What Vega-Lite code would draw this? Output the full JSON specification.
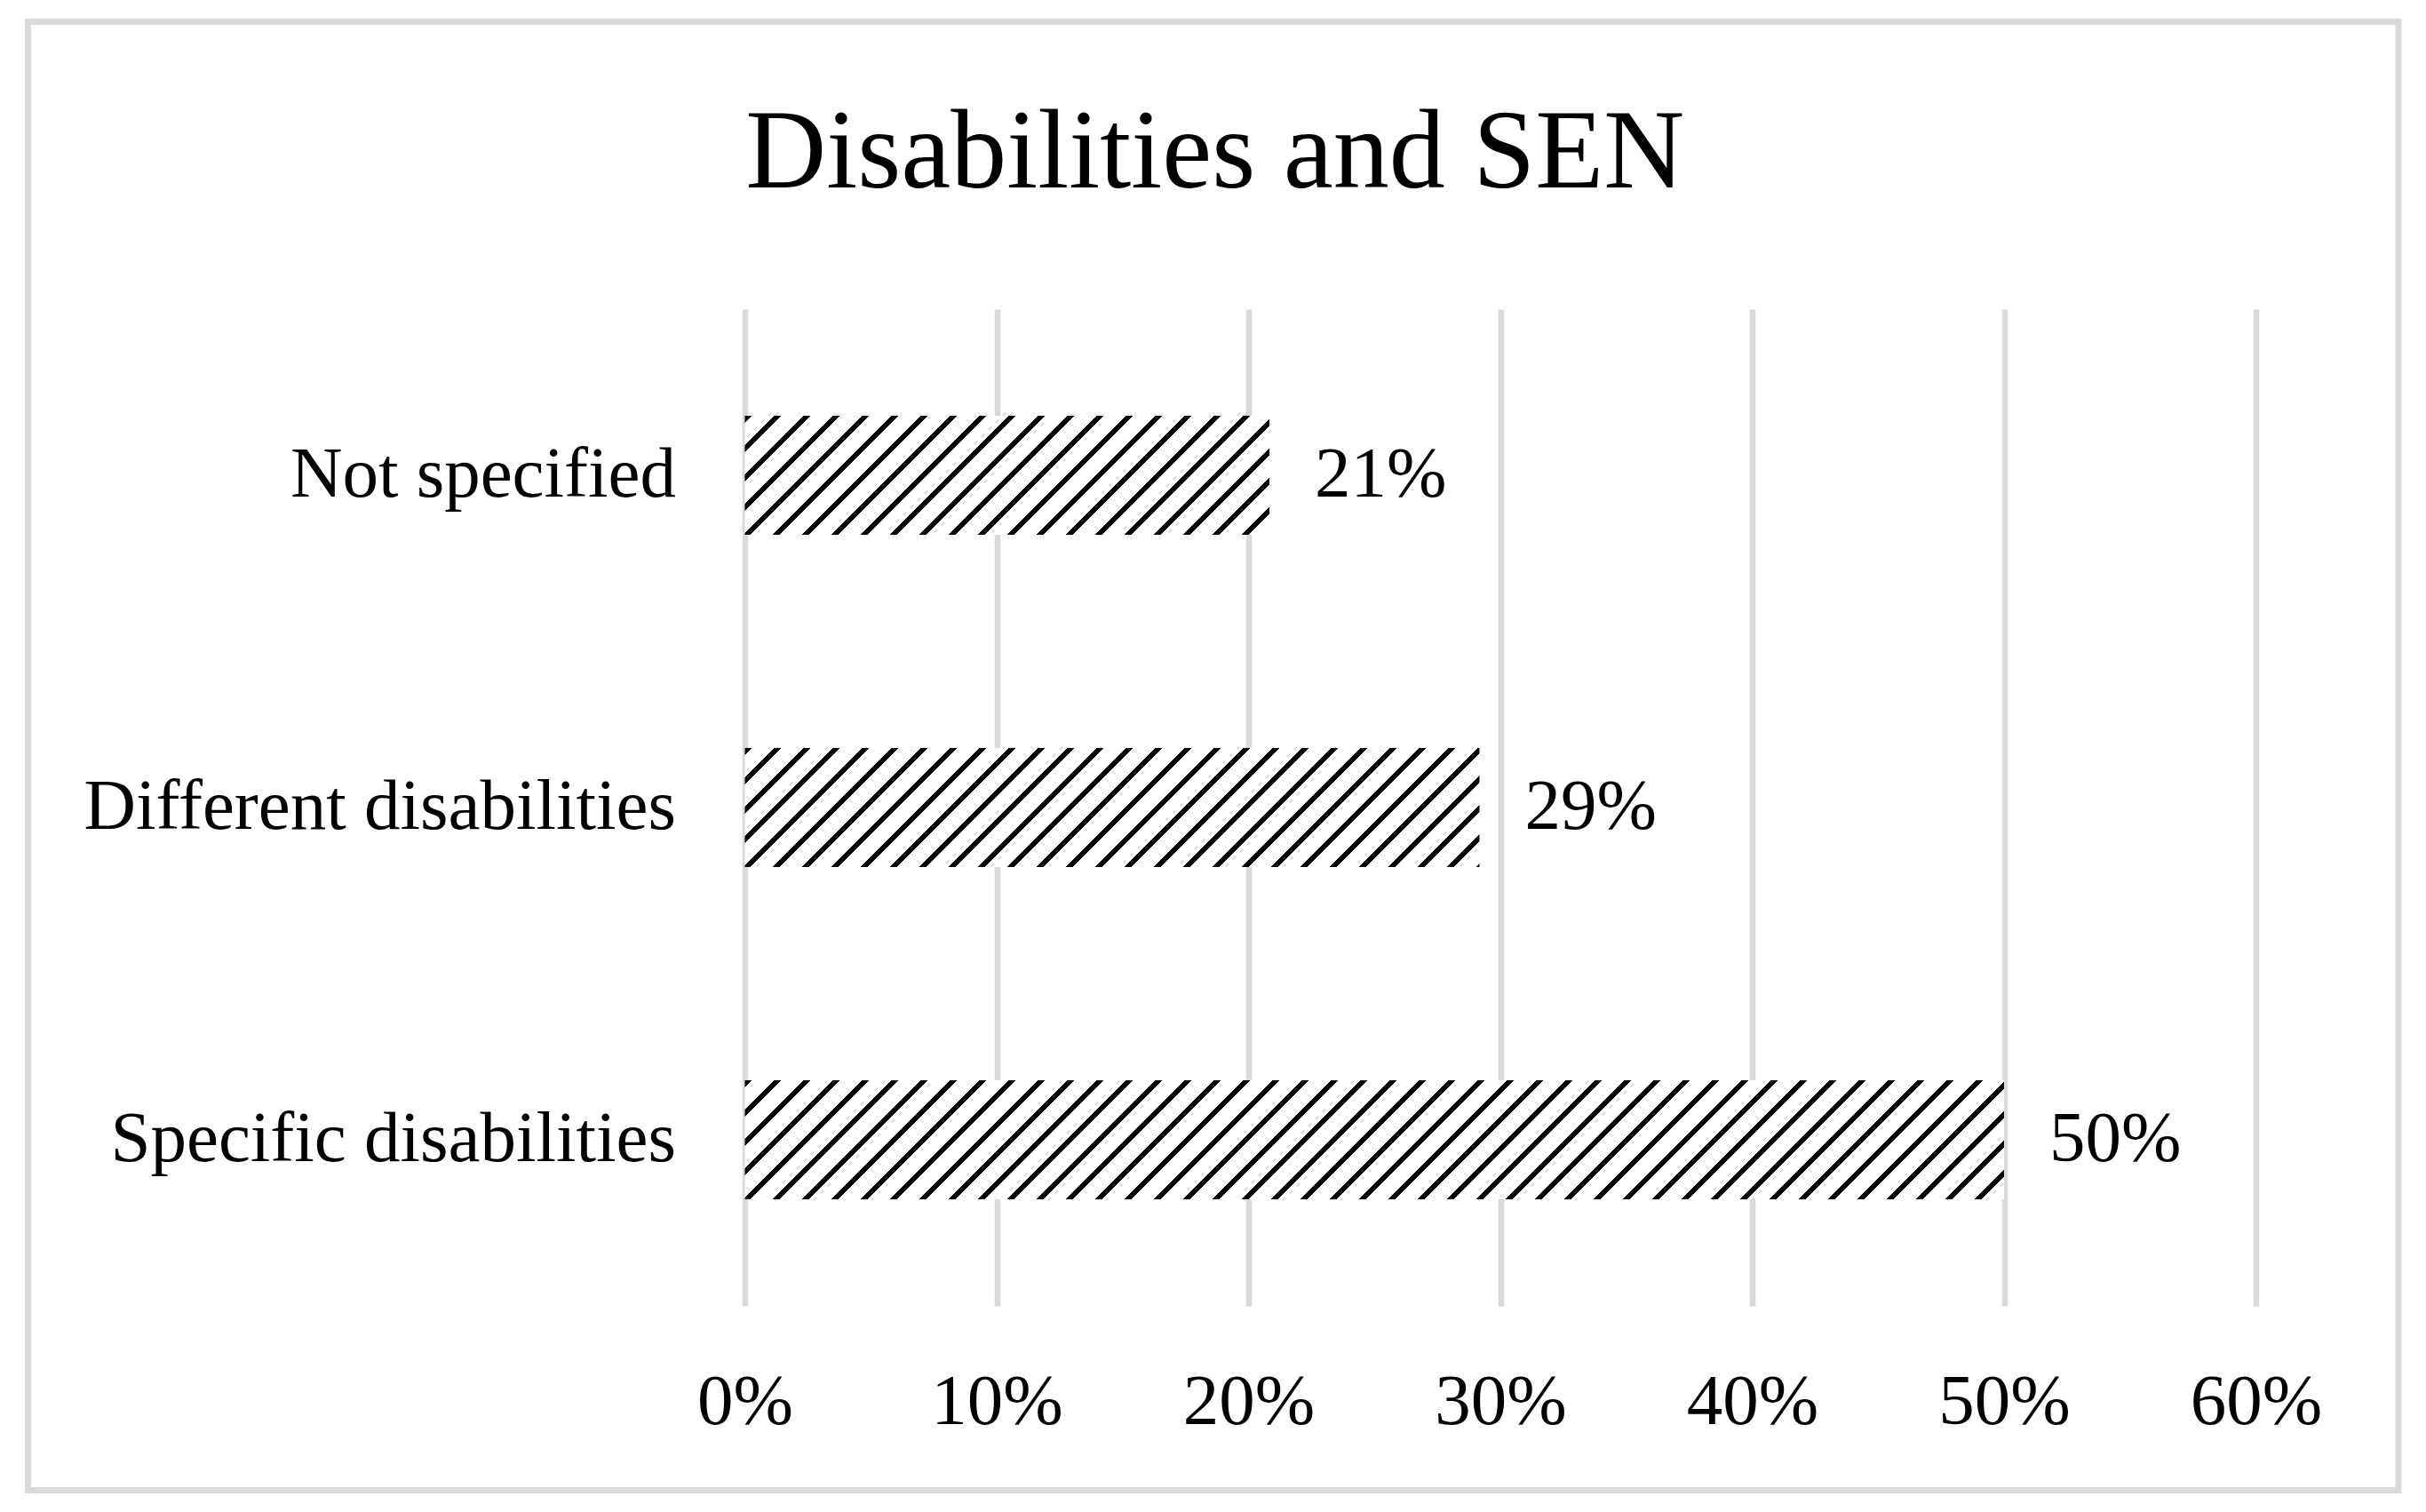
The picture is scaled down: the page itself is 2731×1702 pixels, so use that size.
{
  "$schema": "https://vega.github.io/schema/vega-lite/v6.json",
  "width": 2668.5,
  "height": 1653,
  "autosize": "none",
  "padding": {"left": 31.5, "top": 24.5, "right": 31, "bottom": 24.5},
  "background": "white",
  "config": {"view": {"stroke": "#d9d9d9", "strokeWidth": 7}, "font": "Liberation Serif"},
  "title": {"text": "Disabilities and SEN", "font": "Liberation Serif", "fontSize": 126, "fontWeight": "normal", "color": "#000", "anchor": "middle", "frame": "group", "offset": -212, "dx": 2},
  "data": {"values": [
    {"category": "Not specified", "share": 0.2083},
    {"category": "Different disabilities", "share": 0.2917},
    {"category": "Specific disabilities", "share": 0.5}
  ]},
  "encoding": {
    "y": {"field": "category", "type": "nominal", "sort": ["Not specified", "Different disabilities", "Specific disabilities"],
      "scale": {"range": [323.5, 1445.5], "paddingInner": 0.642, "paddingOuter": 0.321},
      "axis": {"title": null, "orient": "left", "offset": -807, "domain": false, "ticks": false, "tickSize": 0, "labelPadding": 78, "labelFont": "Liberation Serif", "labelFontSize": 81, "labelColor": "#000", "grid": false, "labelLimit": 2000}}
  },
  "resolve": {"axis": {"x": "independent"}},
  "layer": [
    {
      "encoding": {
        "x": {"field": "share", "type": "quantitative",
          "scale": {"domain": [0, 0.6], "range": [807, 2508], "nice": false, "zero": true},
          "axis": {"title": null, "orient": "top", "labels": false, "values": [0, 0.1, 0.2, 0.3, 0.4, 0.5, 0.6], "domain": false, "ticks": false, "tickSize": 0, "grid": true, "gridColor": "#d9d9d9", "gridWidth": 6.5}}
      },
      "mark": {"type": "text", "opacity": 0}
    },
    {
      "encoding": {
        "x": {"field": "share", "type": "quantitative",
          "scale": {"domain": [0, 0.6], "range": [807, 2508], "nice": false, "zero": true},
          "axis": {"title": null, "orient": "bottom", "format": ".0%", "values": [0, 0.1, 0.2, 0.3, 0.4, 0.5, 0.6], "offset": -207.5, "domain": false, "ticks": false, "tickSize": 0, "labelPadding": 68, "labelFont": "Liberation Serif", "labelFontSize": 81, "labelColor": "#000", "grid": false, "labelFlush": false}}
      },
      "layer": [
    {"transform": [{"filter": "datum.category === 'Not specified'"}],
     "mark": {"type": "bar", "stroke": null, "fill": {"gradient": "linear", "x1": 0, "y1": 0, "x2": 2.657, "y2": 0.6029, "stops": [
{"offset":0,"color":"#000"},{"offset":0.005,"color":"#000"},{"offset":0.005,"color":"#fff"},{"offset":0.02,"color":"#fff"},
{"offset":0.02,"color":"#000"},{"offset":0.025,"color":"#000"},{"offset":0.025,"color":"#fff"},{"offset":0.04,"color":"#fff"},
{"offset":0.04,"color":"#000"},{"offset":0.045,"color":"#000"},{"offset":0.045,"color":"#fff"},{"offset":0.06,"color":"#fff"},
{"offset":0.06,"color":"#000"},{"offset":0.065,"color":"#000"},{"offset":0.065,"color":"#fff"},{"offset":0.08,"color":"#fff"},
{"offset":0.08,"color":"#000"},{"offset":0.085,"color":"#000"},{"offset":0.085,"color":"#fff"},{"offset":0.1,"color":"#fff"},
{"offset":0.1,"color":"#000"},{"offset":0.105,"color":"#000"},{"offset":0.105,"color":"#fff"},{"offset":0.12,"color":"#fff"},
{"offset":0.12,"color":"#000"},{"offset":0.125,"color":"#000"},{"offset":0.125,"color":"#fff"},{"offset":0.14,"color":"#fff"},
{"offset":0.14,"color":"#000"},{"offset":0.145,"color":"#000"},{"offset":0.145,"color":"#fff"},{"offset":0.16,"color":"#fff"},
{"offset":0.16,"color":"#000"},{"offset":0.165,"color":"#000"},{"offset":0.165,"color":"#fff"},{"offset":0.18,"color":"#fff"},
{"offset":0.18,"color":"#000"},{"offset":0.185,"color":"#000"},{"offset":0.185,"color":"#fff"},{"offset":0.2,"color":"#fff"},
{"offset":0.2,"color":"#000"},{"offset":0.205,"color":"#000"},{"offset":0.205,"color":"#fff"},{"offset":0.22,"color":"#fff"},
{"offset":0.22,"color":"#000"},{"offset":0.225,"color":"#000"},{"offset":0.225,"color":"#fff"},{"offset":0.24,"color":"#fff"},
{"offset":0.24,"color":"#000"},{"offset":0.245,"color":"#000"},{"offset":0.245,"color":"#fff"},{"offset":0.26,"color":"#fff"},
{"offset":0.26,"color":"#000"},{"offset":0.265,"color":"#000"},{"offset":0.265,"color":"#fff"},{"offset":0.28,"color":"#fff"},
{"offset":0.28,"color":"#000"},{"offset":0.285,"color":"#000"},{"offset":0.285,"color":"#fff"},{"offset":0.3,"color":"#fff"},
{"offset":0.3,"color":"#000"},{"offset":0.305,"color":"#000"},{"offset":0.305,"color":"#fff"},{"offset":0.32,"color":"#fff"},
{"offset":0.32,"color":"#000"},{"offset":0.325,"color":"#000"},{"offset":0.325,"color":"#fff"},{"offset":0.34,"color":"#fff"},
{"offset":0.34,"color":"#000"},{"offset":0.345,"color":"#000"},{"offset":0.345,"color":"#fff"},{"offset":0.36,"color":"#fff"},
{"offset":0.36,"color":"#000"},{"offset":0.365,"color":"#000"},{"offset":0.365,"color":"#fff"},{"offset":0.38,"color":"#fff"},
{"offset":0.38,"color":"#000"},{"offset":0.385,"color":"#000"},{"offset":0.385,"color":"#fff"},{"offset":0.4,"color":"#fff"},
{"offset":0.4,"color":"#000"},{"offset":0.405,"color":"#000"},{"offset":0.405,"color":"#fff"},{"offset":0.42,"color":"#fff"},
{"offset":0.42,"color":"#000"},{"offset":0.425,"color":"#000"},{"offset":0.425,"color":"#fff"},{"offset":0.44,"color":"#fff"},
{"offset":0.44,"color":"#000"},{"offset":0.445,"color":"#000"},{"offset":0.445,"color":"#fff"},{"offset":0.46,"color":"#fff"}
     ]}}},
    {"transform": [{"filter": "datum.category === 'Different disabilities'"}],
     "mark": {"type": "bar", "stroke": null, "fill": {"gradient": "linear", "x1": 0, "y1": 0, "x2": 1.9441, "y2": 0.315, "stops": [
{"offset":0,"color":"#000"},{"offset":0.005,"color":"#000"},{"offset":0.005,"color":"#fff"},{"offset":0.02,"color":"#fff"},
{"offset":0.02,"color":"#000"},{"offset":0.025,"color":"#000"},{"offset":0.025,"color":"#fff"},{"offset":0.04,"color":"#fff"},
{"offset":0.04,"color":"#000"},{"offset":0.045,"color":"#000"},{"offset":0.045,"color":"#fff"},{"offset":0.06,"color":"#fff"},
{"offset":0.06,"color":"#000"},{"offset":0.065,"color":"#000"},{"offset":0.065,"color":"#fff"},{"offset":0.08,"color":"#fff"},
{"offset":0.08,"color":"#000"},{"offset":0.085,"color":"#000"},{"offset":0.085,"color":"#fff"},{"offset":0.1,"color":"#fff"},
{"offset":0.1,"color":"#000"},{"offset":0.105,"color":"#000"},{"offset":0.105,"color":"#fff"},{"offset":0.12,"color":"#fff"},
{"offset":0.12,"color":"#000"},{"offset":0.125,"color":"#000"},{"offset":0.125,"color":"#fff"},{"offset":0.14,"color":"#fff"},
{"offset":0.14,"color":"#000"},{"offset":0.145,"color":"#000"},{"offset":0.145,"color":"#fff"},{"offset":0.16,"color":"#fff"},
{"offset":0.16,"color":"#000"},{"offset":0.165,"color":"#000"},{"offset":0.165,"color":"#fff"},{"offset":0.18,"color":"#fff"},
{"offset":0.18,"color":"#000"},{"offset":0.185,"color":"#000"},{"offset":0.185,"color":"#fff"},{"offset":0.2,"color":"#fff"},
{"offset":0.2,"color":"#000"},{"offset":0.205,"color":"#000"},{"offset":0.205,"color":"#fff"},{"offset":0.22,"color":"#fff"},
{"offset":0.22,"color":"#000"},{"offset":0.225,"color":"#000"},{"offset":0.225,"color":"#fff"},{"offset":0.24,"color":"#fff"},
{"offset":0.24,"color":"#000"},{"offset":0.245,"color":"#000"},{"offset":0.245,"color":"#fff"},{"offset":0.26,"color":"#fff"},
{"offset":0.26,"color":"#000"},{"offset":0.265,"color":"#000"},{"offset":0.265,"color":"#fff"},{"offset":0.28,"color":"#fff"},
{"offset":0.28,"color":"#000"},{"offset":0.285,"color":"#000"},{"offset":0.285,"color":"#fff"},{"offset":0.3,"color":"#fff"},
{"offset":0.3,"color":"#000"},{"offset":0.305,"color":"#000"},{"offset":0.305,"color":"#fff"},{"offset":0.32,"color":"#fff"},
{"offset":0.32,"color":"#000"},{"offset":0.325,"color":"#000"},{"offset":0.325,"color":"#fff"},{"offset":0.34,"color":"#fff"},
{"offset":0.34,"color":"#000"},{"offset":0.345,"color":"#000"},{"offset":0.345,"color":"#fff"},{"offset":0.36,"color":"#fff"},
{"offset":0.36,"color":"#000"},{"offset":0.365,"color":"#000"},{"offset":0.365,"color":"#fff"},{"offset":0.38,"color":"#fff"},
{"offset":0.38,"color":"#000"},{"offset":0.385,"color":"#000"},{"offset":0.385,"color":"#fff"},{"offset":0.4,"color":"#fff"},
{"offset":0.4,"color":"#000"},{"offset":0.405,"color":"#000"},{"offset":0.405,"color":"#fff"},{"offset":0.42,"color":"#fff"},
{"offset":0.42,"color":"#000"},{"offset":0.425,"color":"#000"},{"offset":0.425,"color":"#fff"},{"offset":0.44,"color":"#fff"},
{"offset":0.44,"color":"#000"},{"offset":0.445,"color":"#000"},{"offset":0.445,"color":"#fff"},{"offset":0.46,"color":"#fff"},
{"offset":0.46,"color":"#000"},{"offset":0.465,"color":"#000"},{"offset":0.465,"color":"#fff"},{"offset":0.48,"color":"#fff"},
{"offset":0.48,"color":"#000"},{"offset":0.485,"color":"#000"},{"offset":0.485,"color":"#fff"},{"offset":0.5,"color":"#fff"},
{"offset":0.5,"color":"#000"},{"offset":0.505,"color":"#000"},{"offset":0.505,"color":"#fff"},{"offset":0.52,"color":"#fff"},
{"offset":0.52,"color":"#000"},{"offset":0.525,"color":"#000"},{"offset":0.525,"color":"#fff"},{"offset":0.54,"color":"#fff"},
{"offset":0.54,"color":"#000"},{"offset":0.545,"color":"#000"},{"offset":0.545,"color":"#fff"},{"offset":0.56,"color":"#fff"},
{"offset":0.56,"color":"#000"},{"offset":0.565,"color":"#000"},{"offset":0.565,"color":"#fff"},{"offset":0.58,"color":"#fff"},
{"offset":0.58,"color":"#000"},{"offset":0.585,"color":"#000"},{"offset":0.585,"color":"#fff"},{"offset":0.6,"color":"#fff"}
     ]}}},
    {"transform": [{"filter": "datum.category === 'Specific disabilities'"}],
     "mark": {"type": "bar", "stroke": null, "fill": {"gradient": "linear", "x1": 0, "y1": 0, "x2": 1.15371, "y2": 0.10906, "stops": [
{"offset":0,"color":"#000"},{"offset":0.005,"color":"#000"},{"offset":0.005,"color":"#fff"},{"offset":0.02,"color":"#fff"},
{"offset":0.02,"color":"#000"},{"offset":0.025,"color":"#000"},{"offset":0.025,"color":"#fff"},{"offset":0.04,"color":"#fff"},
{"offset":0.04,"color":"#000"},{"offset":0.045,"color":"#000"},{"offset":0.045,"color":"#fff"},{"offset":0.06,"color":"#fff"},
{"offset":0.06,"color":"#000"},{"offset":0.065,"color":"#000"},{"offset":0.065,"color":"#fff"},{"offset":0.08,"color":"#fff"},
{"offset":0.08,"color":"#000"},{"offset":0.085,"color":"#000"},{"offset":0.085,"color":"#fff"},{"offset":0.1,"color":"#fff"},
{"offset":0.1,"color":"#000"},{"offset":0.105,"color":"#000"},{"offset":0.105,"color":"#fff"},{"offset":0.12,"color":"#fff"},
{"offset":0.12,"color":"#000"},{"offset":0.125,"color":"#000"},{"offset":0.125,"color":"#fff"},{"offset":0.14,"color":"#fff"},
{"offset":0.14,"color":"#000"},{"offset":0.145,"color":"#000"},{"offset":0.145,"color":"#fff"},{"offset":0.16,"color":"#fff"},
{"offset":0.16,"color":"#000"},{"offset":0.165,"color":"#000"},{"offset":0.165,"color":"#fff"},{"offset":0.18,"color":"#fff"},
{"offset":0.18,"color":"#000"},{"offset":0.185,"color":"#000"},{"offset":0.185,"color":"#fff"},{"offset":0.2,"color":"#fff"},
{"offset":0.2,"color":"#000"},{"offset":0.205,"color":"#000"},{"offset":0.205,"color":"#fff"},{"offset":0.22,"color":"#fff"},
{"offset":0.22,"color":"#000"},{"offset":0.225,"color":"#000"},{"offset":0.225,"color":"#fff"},{"offset":0.24,"color":"#fff"},
{"offset":0.24,"color":"#000"},{"offset":0.245,"color":"#000"},{"offset":0.245,"color":"#fff"},{"offset":0.26,"color":"#fff"},
{"offset":0.26,"color":"#000"},{"offset":0.265,"color":"#000"},{"offset":0.265,"color":"#fff"},{"offset":0.28,"color":"#fff"},
{"offset":0.28,"color":"#000"},{"offset":0.285,"color":"#000"},{"offset":0.285,"color":"#fff"},{"offset":0.3,"color":"#fff"},
{"offset":0.3,"color":"#000"},{"offset":0.305,"color":"#000"},{"offset":0.305,"color":"#fff"},{"offset":0.32,"color":"#fff"},
{"offset":0.32,"color":"#000"},{"offset":0.325,"color":"#000"},{"offset":0.325,"color":"#fff"},{"offset":0.34,"color":"#fff"},
{"offset":0.34,"color":"#000"},{"offset":0.345,"color":"#000"},{"offset":0.345,"color":"#fff"},{"offset":0.36,"color":"#fff"},
{"offset":0.36,"color":"#000"},{"offset":0.365,"color":"#000"},{"offset":0.365,"color":"#fff"},{"offset":0.38,"color":"#fff"},
{"offset":0.38,"color":"#000"},{"offset":0.385,"color":"#000"},{"offset":0.385,"color":"#fff"},{"offset":0.4,"color":"#fff"},
{"offset":0.4,"color":"#000"},{"offset":0.405,"color":"#000"},{"offset":0.405,"color":"#fff"},{"offset":0.42,"color":"#fff"},
{"offset":0.42,"color":"#000"},{"offset":0.425,"color":"#000"},{"offset":0.425,"color":"#fff"},{"offset":0.44,"color":"#fff"},
{"offset":0.44,"color":"#000"},{"offset":0.445,"color":"#000"},{"offset":0.445,"color":"#fff"},{"offset":0.46,"color":"#fff"},
{"offset":0.46,"color":"#000"},{"offset":0.465,"color":"#000"},{"offset":0.465,"color":"#fff"},{"offset":0.48,"color":"#fff"},
{"offset":0.48,"color":"#000"},{"offset":0.485,"color":"#000"},{"offset":0.485,"color":"#fff"},{"offset":0.5,"color":"#fff"},
{"offset":0.5,"color":"#000"},{"offset":0.505,"color":"#000"},{"offset":0.505,"color":"#fff"},{"offset":0.52,"color":"#fff"},
{"offset":0.52,"color":"#000"},{"offset":0.525,"color":"#000"},{"offset":0.525,"color":"#fff"},{"offset":0.54,"color":"#fff"},
{"offset":0.54,"color":"#000"},{"offset":0.545,"color":"#000"},{"offset":0.545,"color":"#fff"},{"offset":0.56,"color":"#fff"},
{"offset":0.56,"color":"#000"},{"offset":0.565,"color":"#000"},{"offset":0.565,"color":"#fff"},{"offset":0.58,"color":"#fff"},
{"offset":0.58,"color":"#000"},{"offset":0.585,"color":"#000"},{"offset":0.585,"color":"#fff"},{"offset":0.6,"color":"#fff"},
{"offset":0.6,"color":"#000"},{"offset":0.605,"color":"#000"},{"offset":0.605,"color":"#fff"},{"offset":0.62,"color":"#fff"},
{"offset":0.62,"color":"#000"},{"offset":0.625,"color":"#000"},{"offset":0.625,"color":"#fff"},{"offset":0.64,"color":"#fff"},
{"offset":0.64,"color":"#000"},{"offset":0.645,"color":"#000"},{"offset":0.645,"color":"#fff"},{"offset":0.66,"color":"#fff"},
{"offset":0.66,"color":"#000"},{"offset":0.665,"color":"#000"},{"offset":0.665,"color":"#fff"},{"offset":0.68,"color":"#fff"},
{"offset":0.68,"color":"#000"},{"offset":0.685,"color":"#000"},{"offset":0.685,"color":"#fff"},{"offset":0.7,"color":"#fff"},
{"offset":0.7,"color":"#000"},{"offset":0.705,"color":"#000"},{"offset":0.705,"color":"#fff"},{"offset":0.72,"color":"#fff"},
{"offset":0.72,"color":"#000"},{"offset":0.725,"color":"#000"},{"offset":0.725,"color":"#fff"},{"offset":0.74,"color":"#fff"},
{"offset":0.74,"color":"#000"},{"offset":0.745,"color":"#000"},{"offset":0.745,"color":"#fff"},{"offset":0.76,"color":"#fff"},
{"offset":0.76,"color":"#000"},{"offset":0.765,"color":"#000"},{"offset":0.765,"color":"#fff"},{"offset":0.78,"color":"#fff"},
{"offset":0.78,"color":"#000"},{"offset":0.785,"color":"#000"},{"offset":0.785,"color":"#fff"},{"offset":0.8,"color":"#fff"},
{"offset":0.8,"color":"#000"},{"offset":0.805,"color":"#000"},{"offset":0.805,"color":"#fff"},{"offset":0.82,"color":"#fff"},
{"offset":0.82,"color":"#000"},{"offset":0.825,"color":"#000"},{"offset":0.825,"color":"#fff"},{"offset":0.84,"color":"#fff"},
{"offset":0.84,"color":"#000"},{"offset":0.845,"color":"#000"},{"offset":0.845,"color":"#fff"},{"offset":0.86,"color":"#fff"},
{"offset":0.86,"color":"#000"},{"offset":0.865,"color":"#000"},{"offset":0.865,"color":"#fff"},{"offset":0.88,"color":"#fff"},
{"offset":0.88,"color":"#000"},{"offset":0.885,"color":"#000"},{"offset":0.885,"color":"#fff"},{"offset":0.9,"color":"#fff"},
{"offset":0.9,"color":"#000"},{"offset":0.905,"color":"#000"},{"offset":0.905,"color":"#fff"},{"offset":0.92,"color":"#fff"},
{"offset":0.92,"color":"#000"},{"offset":0.925,"color":"#000"},{"offset":0.925,"color":"#fff"},{"offset":0.94,"color":"#fff"},
{"offset":0.94,"color":"#000"},{"offset":0.945,"color":"#000"},{"offset":0.945,"color":"#fff"},{"offset":0.96,"color":"#fff"}
     ]}}},
    {"mark": {"type": "text", "align": "left", "baseline": "middle", "dx": 51, "font": "Liberation Serif", "fontSize": 81, "fill": "#000"},
     "encoding": {"text": {"field": "share", "type": "quantitative", "format": ".0%"}}}
      ]
    }
  ]
}
